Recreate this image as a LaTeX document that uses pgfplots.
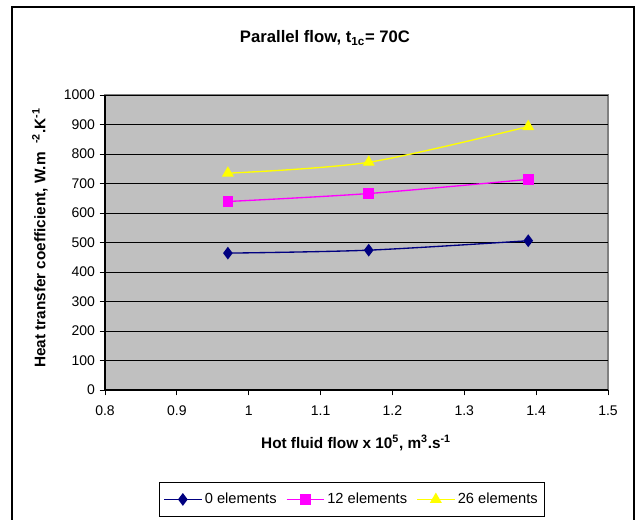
\documentclass[border=0pt]{standalone}
\usepackage{pgfplots}
\pgfplotsset{compat=1.18}
\usepackage{fontspec}
\setmainfont{Liberation Sans}

\definecolor{plotgray}{HTML}{C0C0C0}
\definecolor{bordergray}{HTML}{808080}
\definecolor{navyblue}{HTML}{000080}
\definecolor{xlmagenta}{HTML}{FF00FF}
\definecolor{xlyellow}{HTML}{FFFF00}

\pgfplotstableread{
x      y
0.971  464
1.167  474
1.389  506
}\zeroel
\pgfplotstableread{
x      y
0.971  639
1.167  666
1.389  714
}\twelveel
\pgfplotstableread{
x      y
0.971  735
1.167  772
1.389  893
}\twentysixel

\begin{document}
\begin{tikzpicture}[x=0.75pt,y=-0.75pt]
% 1 unit = 1 pixel of the reference, y downwards
\useasboundingbox (0,0) rectangle (636,520);
\draw[line width=1.5pt] (12,540) -- (12,7) -- (634,7) -- (634,540);

\node[font=\bfseries\fontsize{12.5}{14}\selectfont] at (325,38)
  {Parallel flow, t\textsubscript{1c}= 70C};
\node[font=\bfseries\fontsize{11.5}{13}\selectfont] at (356,443)
  {Hot fluid flow x 10\textsuperscript{5}, m\textsuperscript{3}.s\textsuperscript{-1}};
\node[font=\bfseries\fontsize{11.5}{13}\selectfont, rotate=90] at (40,238)
  {Heat transfer coefficient, W.m \ \textsuperscript{-2}.K\textsuperscript{-1}};

\begin{axis}[
    at={(78.75pt,-292.5pt)}, anchor=south west,
    width=377.25pt, height=221.25pt, scale only axis,
    xmin=0.8, xmax=1.5, ymin=0, ymax=1000,
    xtick={0.8,0.9,1,1.1,1.2,1.3,1.4,1.5},
    ytick={0,100,200,300,400,500,600,700,800,900,1000},
    axis lines*=left,
    axis line style={black, line width=0.8pt, -},
    axis background/.style={fill=plotgray, draw=bordergray, line width=0.8pt},
    ymajorgrids,
    grid style={black, line width=0.6pt},
    tick align=outside, major tick length=4pt,
    tick style={black, line width=0.6pt},
    /pgf/number format/assume math mode=true,
    /pgf/number format/1000 sep={},
    ticklabel style={font=\fontsize{10.5}{12}\selectfont},
    xticklabel style={yshift=-4.5pt},
    legend style={at={(0.491,-0.371)}, anchor=center, draw=black,
      line width=0.6pt, font=\fontsize{11}{12}\selectfont,
      inner xsep=3pt, inner ysep=6pt,
      /tikz/every even column/.append style={column sep=5pt}},
    legend columns=3,
    legend image code/.code={%
      \draw[mark repeat=2, mark phase=2, #1]
        plot coordinates {(0pt,0pt) (14pt,0pt) (28pt,0pt)};},
]
\addplot[navyblue, line width=1pt, smooth, mark=diamond*, mark size=4pt,
  mark options={solid}] table {\zeroel};
\addlegendentry{0 elements}
\addplot[xlmagenta, line width=1pt, smooth, mark=square*, mark size=3.5pt,
  mark options={solid}] table {\twelveel};
\addlegendentry{12 elements}
\addplot[xlyellow, line width=1pt, smooth, mark=triangle*, mark size=4.2pt,
  mark options={solid}] table {\twentysixel};
\addlegendentry{26 elements}
\end{axis}
\end{tikzpicture}
\end{document}
